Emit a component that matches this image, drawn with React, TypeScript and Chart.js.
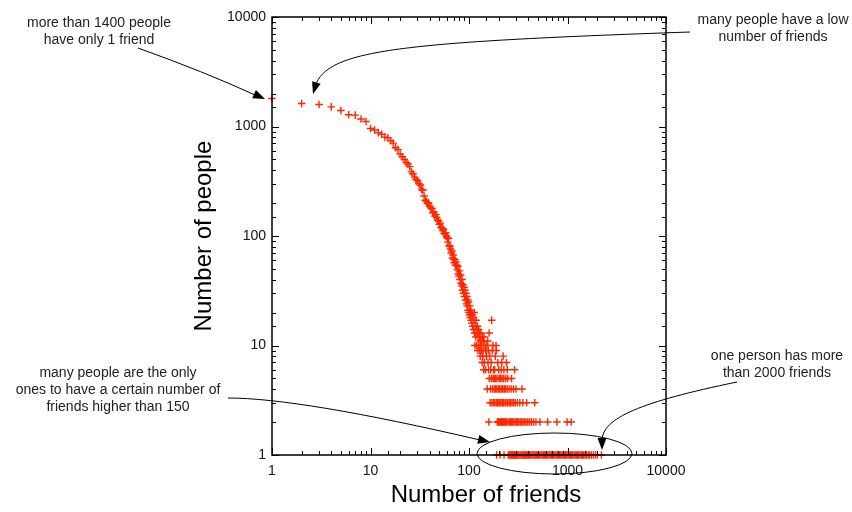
import React, { useEffect, useRef } from 'react';
import { Chart, registerables } from 'chart.js';

Chart.register(...registerables);

// ---------- data ----------
const mainFriends = [
  1, 2, 3, 4, 5, 6, 7, 8, 9, 10, 11, 12, 13, 14, 15, 16, 17, 18, 19, 20,
  21, 22, 23, 24, 25, 26, 27, 28, 29, 30, 31, 32, 33, 34, 35, 36, 37, 38, 39, 40,
  41, 42, 43, 44, 45, 46, 47, 48, 49, 50, 51, 52, 53, 54, 55, 56, 57, 58, 59, 60,
  61, 62, 63, 64, 65, 66, 67, 68, 69, 70, 71, 72, 73, 74, 75, 76, 77, 78, 79, 80,
  81, 82, 83, 84, 85, 86, 87, 88, 89, 90, 91, 92, 93, 94, 95, 96, 97, 98, 99, 100,
];
const mainPeople = [
  1800, 1620, 1590, 1510, 1400, 1280, 1270, 1170, 1110, 960,
  930, 880, 850, 800, 790, 740, 705, 640, 615, 560,
  530, 500, 470, 455, 430, 385, 370, 345, 330, 320,
  300, 292, 268, 262, 232, 212, 205, 198, 200, 186,
  180, 178, 162, 166, 152, 157, 148, 140, 137, 128,
  131, 120, 118, 112, 116, 106, 104, 107, 99, 96,
  88, 95, 82, 80, 76, 70, 73, 63, 67, 61,
  57, 61, 54, 58, 54, 49, 53, 45, 43, 48,
  40, 44, 37, 35, 40, 32, 36, 30, 34, 28,
  32, 26, 30, 24, 28, 23, 26, 21, 25, 20,
];

const tailFriends = [
  101, 102, 103, 104, 105, 106, 107, 108, 109, 110, 111, 112, 113, 114, 116, 117, 118, 119,
  121, 122, 124, 125, 127, 128, 131, 132, 135, 137, 140, 142, 155, 160, 170,
];
const tailPeople = [
  19, 23, 18, 21, 17, 20, 16, 19, 15, 18, 14, 17, 20, 13, 15, 12, 17, 14,
  13, 15, 12, 14, 13, 12, 11, 13, 11, 12, 11, 12, 11, 13, 17,
];

const friendsHeldByTen = [115, 120, 126, 133, 145, 152, 175, 188];
const friendsHeldByNine = [123, 129, 134, 139, 148, 157, 172, 190];
const friendsHeldByEight = [130, 138, 150, 163, 185, 222];
const friendsHeldBySeven = [136, 143, 156, 168, 196, 215, 240];
const friendsHeldBySix = [141, 147, 158, 166, 178, 182, 200, 212, 226, 245, 290];
const friendsHeldByFive = [161, 169, 176, 181, 187, 193, 203, 208, 216, 225, 236, 248, 270];
const friendsHeldByFour = [153, 165, 173, 180, 186, 192, 198, 205, 213, 220, 228, 234, 244, 255, 268, 283, 300, 345];
const friendsHeldByThree = [
  164, 171, 177, 183, 189, 195, 201, 206, 211, 218, 224, 232, 238, 247, 256, 265, 274, 284,
  295, 310, 328, 352, 385, 465,
];
const friendsHeldByTwo = [
  159, 194, 199, 204, 209, 214, 219, 223, 229, 235, 241, 249, 257, 263, 271, 277, 286, 293,
  302, 311, 321, 331, 342, 354, 366, 380, 395, 412, 430, 452, 478, 525, 630, 780, 990, 1090,
];
const friendsHeldByOne = [
  191, 207, 227, 250, 259, 262, 266, 272, 278, 281, 288, 292, 298, 305, 313, 320, 330, 338,
  347, 356, 364, 372, 381, 392, 401, 410, 423, 436, 447, 458, 470, 483, 497, 510, 524, 538,
  552, 568, 583, 598, 615, 632, 650, 668, 686, 705, 724, 745, 766, 788, 810, 833, 856, 880,
  905, 930, 957, 984, 1012, 1040, 1070, 1100, 1131, 1163, 1196, 1230, 1265, 1300, 1340, 1380,
  1420, 1460, 1510, 1560, 1620, 1680, 1750, 1830, 1920, 2010, 2210,
];

const axisMin = 1;
const axisMax = 10000;

const xTitle = 'Number of friends';
const yTitle = 'Number of people';
const noteSingle = ['more than 1400 people', 'have only 1 friend'];
const noteLow = ['many people have a low', 'number of friends'];
const noteUnique = ['many people are the only', 'ones to have a certain number of', 'friends higher than 150'];
const noteMax = ['one person has more', 'than 2000 friends'];

// ---------- helpers ----------
const FONT = '"Liberation Sans", Arial, Helvetica, sans-serif';
const MARK = 'rgb(255, 38, 0)';

const isDecade = (v: number) => {
  const l = Math.log10(v);
  return Math.abs(l - Math.round(l)) < 1e-9;
};

function buildPoints() {
  const pts: { x: number; y: number }[] = [];
  mainFriends.forEach((f, i) => pts.push({ x: f, y: mainPeople[i] }));
  tailFriends.forEach((f, i) => pts.push({ x: f, y: tailPeople[i] }));
  const rows: [number[], number][] = [
    [friendsHeldByTen, 10],
    [friendsHeldByNine, 9],
    [friendsHeldByEight, 8],
    [friendsHeldBySeven, 7],
    [friendsHeldBySix, 6],
    [friendsHeldByFive, 5],
    [friendsHeldByFour, 4],
    [friendsHeldByThree, 3],
    [friendsHeldByTwo, 2],
    [friendsHeldByOne, 1],
  ];
  rows.forEach(([list, count]) => list.forEach((f) => pts.push({ x: f, y: count })));
  return pts;
}

function head(ctx: CanvasRenderingContext2D, tx: number, ty: number, fx: number, fy: number) {
  const a = Math.atan2(ty - fy, tx - fx);
  const len = 12;
  const half = 4.5;
  const bx = tx - len * Math.cos(a);
  const by = ty - len * Math.sin(a);
  ctx.beginPath();
  ctx.moveTo(tx, ty);
  ctx.lineTo(bx + half * Math.sin(a), by - half * Math.cos(a));
  ctx.lineTo(bx - half * Math.sin(a), by + half * Math.cos(a));
  ctx.closePath();
  ctx.fill();
}

function lines(ctx: CanvasRenderingContext2D, text: string[], cx: number, y0: number, step: number) {
  text.forEach((t, i) => ctx.fillText(t, cx, y0 + i * step));
}

const framePlugin = {
  id: 'frameAndNotes',
  afterDraw(chart: any) {
    const { ctx, chartArea: a, scales } = chart;
    const xs = scales.x;
    const ys = scales.y;
    ctx.save();
    ctx.strokeStyle = '#000';
    ctx.fillStyle = '#000';

    // inward ticks, mirrored
    ctx.lineWidth = 1;
    ctx.beginPath();
    xs.ticks.forEach((t: any) => {
      const p = Math.round(xs.getPixelForValue(t.value)) + 0.5;
      const L = isDecade(t.value) ? 7 : 4;
      ctx.moveTo(p, a.bottom);
      ctx.lineTo(p, a.bottom - L);
      ctx.moveTo(p, a.top);
      ctx.lineTo(p, a.top + L);
    });
    ys.ticks.forEach((t: any) => {
      const p = Math.round(ys.getPixelForValue(t.value)) + 0.5;
      const L = isDecade(t.value) ? 7 : 4;
      ctx.moveTo(a.left, p);
      ctx.lineTo(a.left + L, p);
      ctx.moveTo(a.right, p);
      ctx.lineTo(a.right - L, p);
    });
    ctx.stroke();

    // frame
    ctx.lineWidth = 1.5;
    ctx.strokeRect(a.left, a.top, a.right - a.left, a.bottom - a.top);

    // axis titles
    ctx.font = `24px ${FONT}`;
    ctx.textAlign = 'center';
    ctx.textBaseline = 'alphabetic';
    ctx.fillText(xTitle, 486, 502);
    ctx.save();
    ctx.translate(211, 236);
    ctx.rotate(-Math.PI / 2);
    ctx.fillText(yTitle, 0, 0);
    ctx.restore();

    // notes
    ctx.font = `14px ${FONT}`;
    ctx.fillStyle = '#222';
    lines(ctx, noteSingle, 99, 27, 17);
    lines(ctx, noteLow, 773, 24, 17);
    lines(ctx, noteUnique, 118, 377, 17);
    lines(ctx, noteMax, 777, 360, 17);
    ctx.fillStyle = '#000';

    ctx.lineWidth = 1;
    // arrow 1
    ctx.beginPath();
    ctx.moveTo(138, 48);
    ctx.quadraticCurveTo(205, 72, 255, 95);
    ctx.stroke();
    head(ctx, 265, 99, 205, 72);

    // arrow 2
    ctx.beginPath();
    ctx.moveTo(690, 32);
    ctx.bezierCurveTo(400, 42, 330, 50, 316, 84);
    ctx.stroke();
    head(ctx, 313, 94, 320, 70);

    // arrow 3
    ctx.beginPath();
    ctx.moveTo(228, 398);
    ctx.quadraticCurveTo(300, 398, 480, 440);
    ctx.stroke();
    head(ctx, 490, 442, 300, 398);

    // arrow 4
    ctx.beginPath();
    ctx.moveTo(737, 382);
    ctx.bezierCurveTo(640, 402, 603, 418, 602, 440);
    ctx.stroke();
    head(ctx, 602, 450, 602, 420);

    // ellipse
    ctx.beginPath();
    ctx.ellipse(554.5, 453.5, 77.5, 20.5, 0, 0, Math.PI * 2);
    ctx.stroke();

    ctx.restore();
  },
};

export default function App() {
  const ref = useRef<HTMLCanvasElement | null>(null);

  useEffect(() => {
    document.body.style.margin = '0';
    const canvas = ref.current;
    if (!canvas) return;
    const tickFont = { family: FONT, size: 14 };
    const chart = new Chart(canvas, {
      type: 'scatter',
      data: {
        datasets: [
          {
            data: buildPoints(),
            pointStyle: 'cross',
            pointRadius: 3.8,
            pointBorderWidth: 1.4,
            borderColor: MARK,
            backgroundColor: MARK,
            clip: false as any,
          } as any,
        ],
      },
      options: {
        animation: false,
        responsive: false,
        devicePixelRatio: 1,
        layout: { padding: { left: 0, right: 186, top: 17, bottom: 0 } },
        plugins: { legend: { display: false }, tooltip: { enabled: false } },
        scales: {
          x: {
            type: 'logarithmic',
            min: axisMin,
            max: axisMax,
            position: 'bottom',
            grid: { display: false, drawTicks: false },
            border: { display: false },
            ticks: {
              autoSkip: false,
              maxRotation: 0,
              padding: 8,
              color: '#111',
              font: tickFont,
              callback: (v: any) => (isDecade(Number(v)) ? String(v) : ''),
            },
            afterFit: (s: any) => {
              s.height = 57;
            },
          },
          y: {
            type: 'logarithmic',
            min: axisMin,
            max: axisMax,
            position: 'left',
            grid: { display: false, drawTicks: false },
            border: { display: false },
            ticks: {
              autoSkip: false,
              padding: 6,
              color: '#111',
              font: tickFont,
              callback: (v: any) => (isDecade(Number(v)) ? String(v) : ''),
            },
            afterFit: (s: any) => {
              s.width = 272;
            },
          },
        },
      } as any,
      plugins: [framePlugin],
    });
    return () => chart.destroy();
  }, []);

  return (
    <div style={{ width: 852, height: 512 }}>
      <canvas ref={ref} width={852} height={512} style={{ display: 'block' }} />
    </div>
  );
}
